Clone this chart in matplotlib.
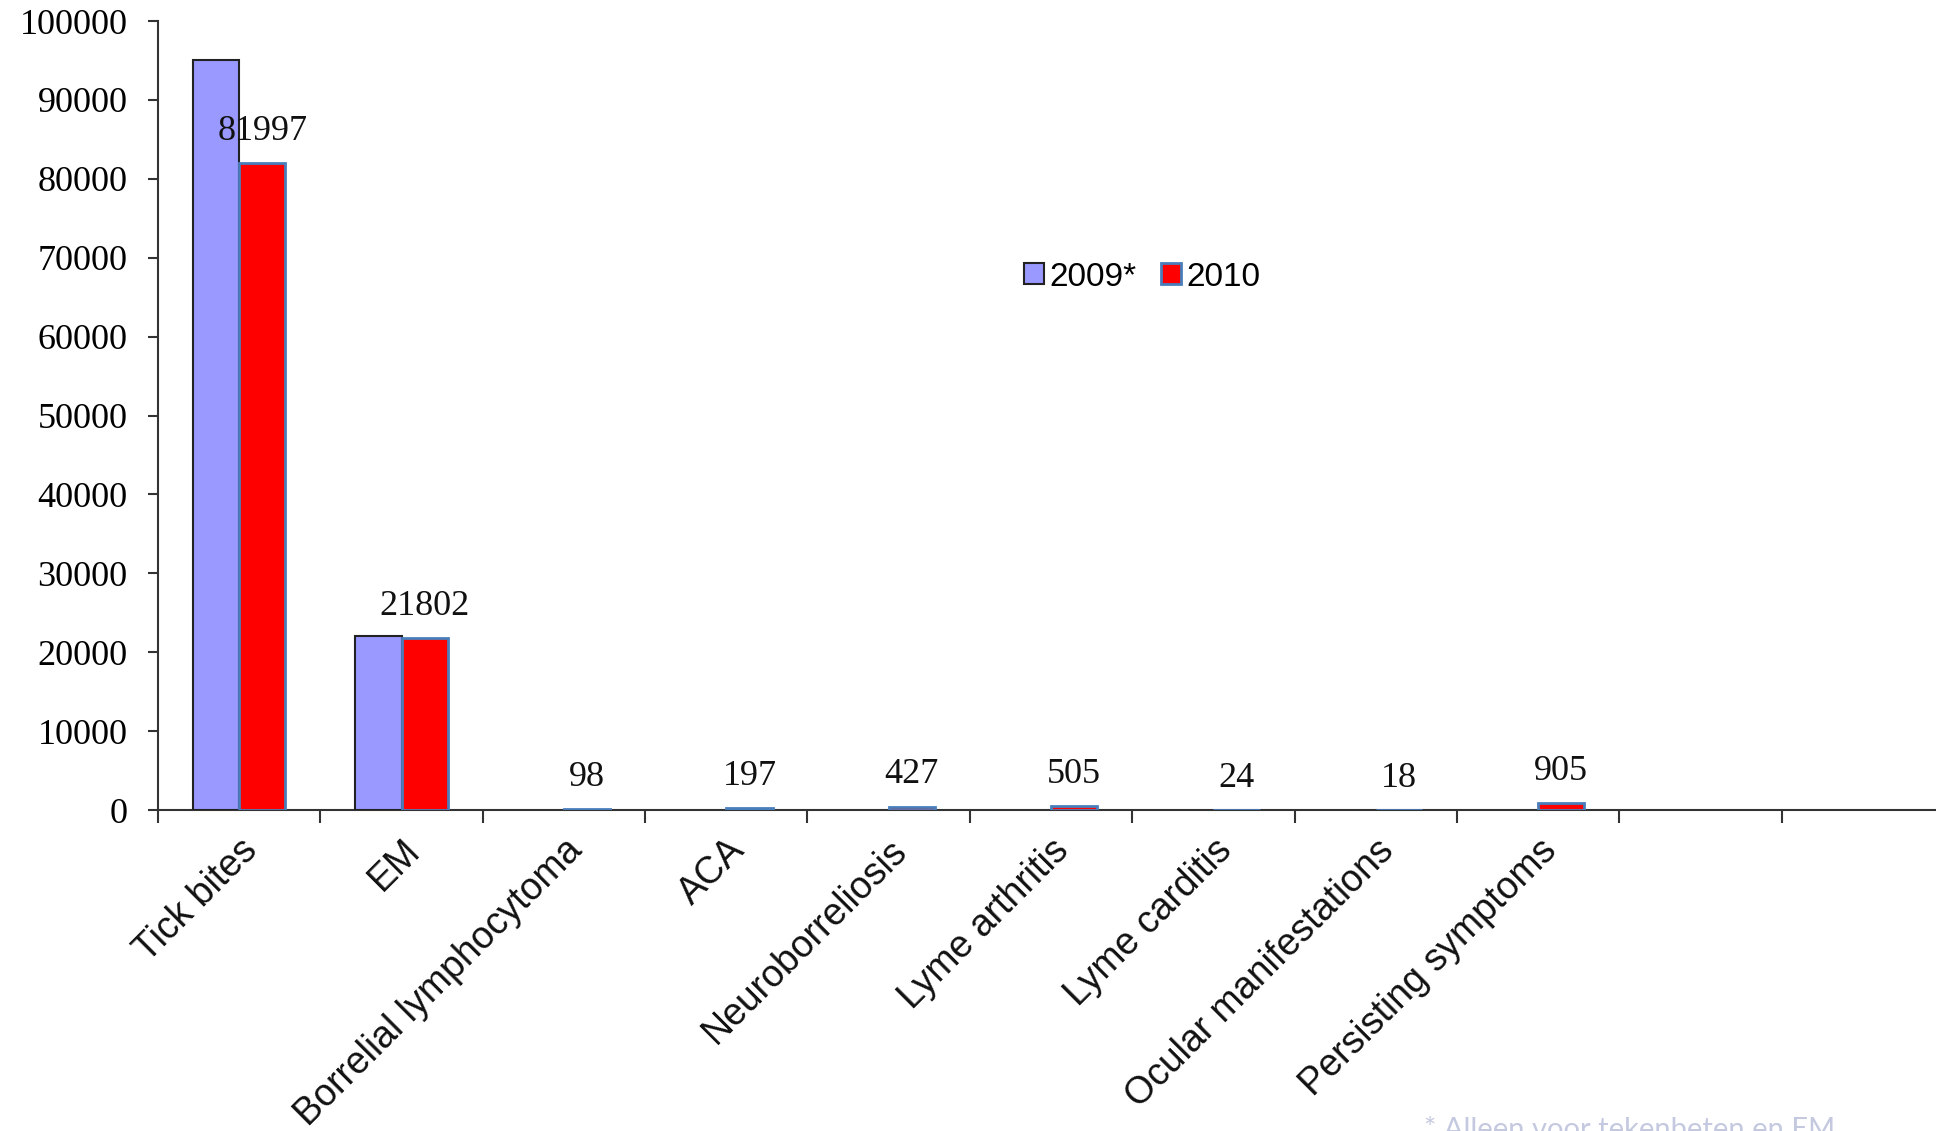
# Lyme-Statistik 2009/2010: gruppiertes Balkendiagramm
import matplotlib
matplotlib.use('Agg')
import matplotlib.pyplot as plt
import numpy as np

# Daten
categories = ['Tick bites', 'EM', 'Borrelial lymphocytoma', 'ACA', 'Neuroborreliosis',
              'Lyme arthritis', 'Lyme carditis', 'Ocular manifestations',
              'Persisting symptoms', '', '']
values_2009 = [95000, 22000, np.nan, np.nan, np.nan, np.nan, np.nan, np.nan, np.nan, np.nan, np.nan]
values_2010 = [81997, 21802, 98, 197, 427, 505, 24, 18, 905, np.nan, np.nan]
series_labels = ['2009*', '2010']
y_ticks = [0, 10000, 20000, 30000, 40000, 50000, 60000, 70000, 80000, 90000, 100000]
footnote = '* Alleen voor tekenbeten en EM'

# Stil
COLOR_2009 = '#9999ff'
COLOR_2010 = '#ff0000'
AXIS_COLOR = '#333333'
BAR_WIDTH = 0.285

fig = plt.figure(figsize=(19.36, 11.31), dpi=100)
ax = fig.add_axes([0.0816, 0.2838, 0.9226, 0.6976])

x = np.arange(len(categories))
ax.bar(x - BAR_WIDTH / 2, values_2009, BAR_WIDTH, color=COLOR_2009,
       edgecolor='#222222', linewidth=1.5, label=series_labels[0], zorder=3)
ax.bar(x + BAR_WIDTH / 2, values_2010, BAR_WIDTH, color=COLOR_2010,
       edgecolor='#4a7ebb', linewidth=2, label=series_labels[1], zorder=3)

# Werte über den 2010-Balken
for xi, val in zip(x, values_2010):
    if np.isnan(val):
        continue
    ax.annotate(f'{int(val)}', (xi + BAR_WIDTH / 2, val), xytext=(0, 11),
                textcoords='offset points', ha='center', va='bottom',
                fontsize=26, family='Liberation Serif', color='#111111')

ax.set_xlim(-0.5, len(categories) - 0.5)
ax.set_ylim(0, 100000)
ax.set_yticks(y_ticks)
ax.set_yticklabels([str(t) for t in y_ticks], fontsize=26, family='Liberation Serif')
ax.tick_params(axis='y', direction='out', length=7, width=1.5, color=AXIS_COLOR, pad=15)

# Kategorien mittig, Striche an den Grenzen
ax.set_xticks(x)
ax.set_xticklabels(categories, rotation=45, ha='right', va='top', rotation_mode='anchor',
                   fontsize=27, family='Liberation Sans', color='#111111')
ax.tick_params(axis='x', which='major', length=0, pad=16)
ax.set_xticks(np.arange(len(categories) + 1) - 0.5, minor=True)
ax.tick_params(axis='x', which='minor', direction='out', length=9, width=1.5, color=AXIS_COLOR)

for side in ['top', 'right']:
    ax.spines[side].set_visible(False)
for side in ['left', 'bottom']:
    ax.spines[side].set_color(AXIS_COLOR)
    ax.spines[side].set_linewidth(1.5)

fig.legend(loc='center left', bbox_to_anchor=(0.529, 0.755), ncol=2, frameon=False,
           prop={'family': 'Liberation Sans', 'size': 24}, handlelength=0.6,
           handleheight=0.6, handletextpad=0.15, columnspacing=0.75,
           borderpad=0, borderaxespad=0)

fig.text(0.7355, 0.0125, footnote, ha='left', va='top', fontsize=21,
         family='Lato', color='#c5c9e0')

fig.savefig('out.png', dpi=100)
